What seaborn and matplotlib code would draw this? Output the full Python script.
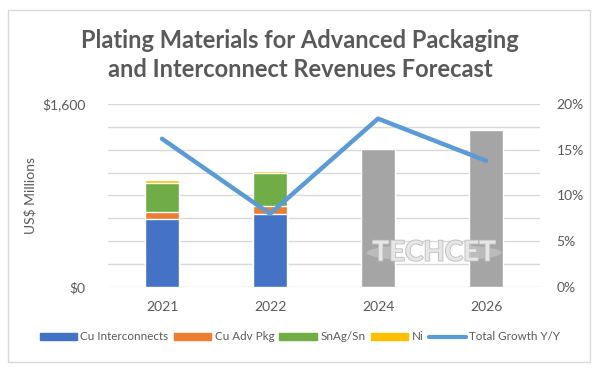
import numpy as np
import pandas as pd
import seaborn as sns
import matplotlib.pyplot as plt
from matplotlib.patches import Rectangle, Patch, Ellipse
from matplotlib.lines import Line2D
from matplotlib.ticker import FixedLocator, FuncFormatter
import matplotlib.patheffects as pe

# Data (US$ millions)
years = ['2021', '2022', '2024', '2026']
cu_interconnects = [591, 638, np.nan, np.nan]
cu_adv_pkg = [67, 70, np.nan, np.nan]
snag_sn = [254, 287, np.nan, np.nan]
ni = [27, 23, np.nan, np.nan]
forecast_total = [np.nan, np.nan, 1208, 1369]
total_growth = [16.2, 8.0, 18.4, 13.8]  # percent

df = pd.DataFrame({'year': years, 'cu_int': cu_interconnects, 'cu_adv': cu_adv_pkg,
                   'snag': snag_sn, 'ni': ni, 'forecast': forecast_total,
                   'growth': total_growth})

c_blue = '#4472C4'
c_orange = '#ED7D31'
c_green = '#70AD47'
c_yellow = '#FFC000'
c_gray = '#A5A5A5'
c_line = '#5B9BD5'
txt = '#595959'

sns.set_style('white')
plt.rcParams['font.family'] = ['Lato', 'DejaVu Sans']

fig = plt.figure(figsize=(6, 3.71), dpi=100)
ax = fig.add_axes([0.18, 0.2264, 0.72, 0.4933])

# stacked bars: draw cumulative totals from top layer down
layers = [('ni', c_yellow), ('snag', c_green), ('cu_adv', c_orange), ('cu_int', c_blue)]
cum = df[['cu_int', 'cu_adv', 'snag', 'ni']].cumsum(axis=1)
for col, color in layers:
    sns.barplot(x=df['year'], y=cum[col], color=color, width=0.32, saturation=1,
                ax=ax, zorder=2)
sns.barplot(x=df['year'], y=df['forecast'], color=c_gray, width=0.32, saturation=1,
            ax=ax, zorder=2)

ax.set_ylim(0, 1600)
ax.yaxis.set_major_locator(FixedLocator(np.arange(0, 1601, 200)))
ax.yaxis.set_major_formatter(FuncFormatter(
    lambda v, p: f'${v:,.0f}' if v in (0, 1600) else ''))
ax.grid(axis='y', color='#D9D9D9', linewidth=1, zorder=0)
ax.set_axisbelow(True)
ax.set_xlabel('')
ax.set_ylabel('US$ Millions', color=txt, fontsize=10, labelpad=4)
ax.tick_params(length=0, labelcolor=txt, labelsize=10)
ax.tick_params(axis='y', pad=16)
ax.tick_params(axis='x', pad=10)
sns.despine(ax=ax, left=True, bottom=True)

# growth line on secondary axis
ax2 = ax.twinx()
sns.lineplot(x=df['year'], y=df['growth'], color=c_line, linewidth=3.2, ax=ax2,
             solid_capstyle='round')
ax2.set_ylim(0, 20)
ax2.set_yticks(np.arange(0, 21, 5))
ax2.yaxis.set_major_formatter(FuncFormatter(lambda v, p: f'{v:.0f}%'))
ax2.set_ylabel('')
ax2.tick_params(length=0, labelcolor=txt, labelsize=10, pad=12)
sns.despine(ax=ax2, left=True, bottom=True, right=True)
ax.set_xlim(-0.5, 3.5)

# watermark
ax.add_patch(Ellipse((2.52, 300), 1.25, 150, facecolor='white', alpha=0.25,
                     edgecolor='none', zorder=3))
ax.text(2.52, 300, 'TECHCET', ha='center', va='center', fontsize=20, fontweight='bold',
        color='#E6E6E6', zorder=4,
        path_effects=[pe.withStroke(linewidth=1.2, foreground='#BDBDBD')])

fig.text(0.5, 0.852, 'Plating Materials for Advanced Packaging\nand Interconnect Revenues Forecast',
         ha='center', va='center', fontsize=17, fontweight='bold', color=txt,
         linespacing=1.3)

handles = [Patch(color=c_blue, label='Cu Interconnects'),
           Patch(color=c_orange, label='Cu Adv Pkg'),
           Patch(color=c_green, label='SnAg/Sn'),
           Patch(color=c_yellow, label='Ni'),
           Line2D([], [], color=c_line, linewidth=3, label='Total Growth Y/Y')]
fig.legend(handles=handles, loc='center', bbox_to_anchor=(0.5, 0.092), ncol=5,
           frameon=False, fontsize=8.4, handlelength=3.2, handleheight=0.5,
           columnspacing=0.45, handletextpad=0.3, labelcolor=txt)

fig.patches.append(Rectangle((8 / 600, 9 / 371), 582 / 600, 352 / 371,
                             transform=fig.transFigure, fill=False,
                             edgecolor='#D9D9D9', linewidth=1))

fig.savefig('out.png', dpi=100)
